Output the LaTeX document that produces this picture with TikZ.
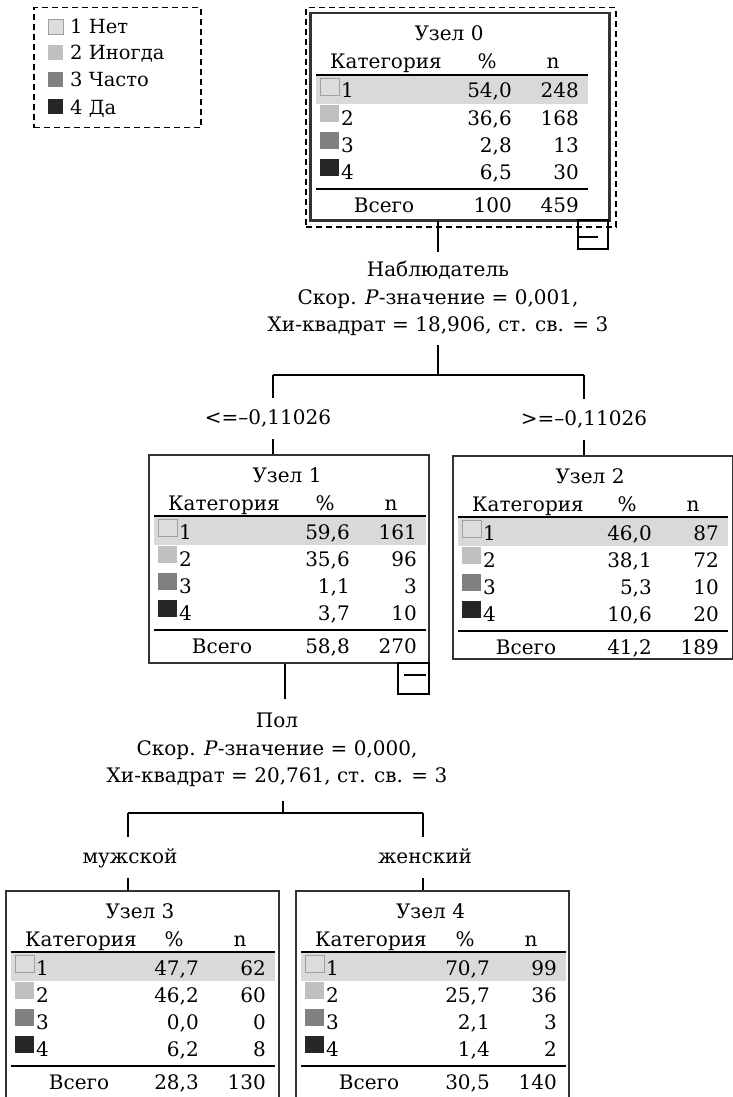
\documentclass[tikz,border=0pt]{standalone}
\usepackage{fontspec}
\setmainfont{DejaVu Serif}
\usetikzlibrary{calc}
\definecolor{hl}{HTML}{D9D9D9}
\definecolor{qa}{HTML}{DCDCDC}
\definecolor{qaedge}{HTML}{A0A0A0}
\definecolor{qb}{HTML}{C0C0C0}
\definecolor{qc}{HTML}{808080}
\definecolor{qd}{HTML}{262626}
\definecolor{frame}{HTML}{333333}
\tikzset{
  treebox/.style={draw=frame,line width=1.5pt,inner sep=0pt,anchor=north west},
  txt/.style={inner sep=0pt,font=\fontsize{20}{24}\selectfont},
  legtxt/.style={inner sep=0pt,font=\fontsize{19.5}{23}\selectfont},
  splittxt/.style={inner xsep=0pt,align=center,font=\fontsize{20}{27.5}\selectfont},
  brtxt/.style={inner xsep=0pt,inner ysep=11pt,text height=15pt,text depth=4pt,anchor=base,font=\fontsize{20}{24}\selectfont},
  rulel/.style={line width=1.8pt},
  conn/.style={line width=1.7pt},
  selbox/.style={draw,dash pattern=on 6pt off 4pt,line width=1.5pt,inner sep=0pt,anchor=north west},
  sqa/.style={fill=qa,draw=qaedge,line width=0.8pt},
  sqb/.style={fill=qb},
  sqc/.style={fill=qc},
  sqd/.style={fill=qd},
  collapse/.style={draw,line width=1.5pt,inner sep=0pt,anchor=north west,minimum width=30pt,minimum height=29pt}
}
% name, left, top, width, height, table right, number
\newcommand\tnode[7]{%
  \def\cur{#1}\def\Lx{#2}\def\Ty{#3}\def\Rx{#6}%
  \fill[hl] (#2+6,#3+62) rectangle (#6,#3+91);
  \node[treebox,minimum width=#4pt,minimum height=#5pt] (#1) at (#2,#3) {};
  \node[txt,anchor=base] (#1-title) at ({(#2+#6)/2},#3+28) {Узел #7};
  \node[txt,anchor=base west] (#1-hc) at (#2+20,#3+56) {Категория};
  \node[txt,anchor=base] (#1-hp) at (#6-101,#3+56) {\%};
  \node[txt,anchor=base] (#1-hn) at (#6-35,#3+56) {n};
  \draw[rulel] (#2+6,#3+62) -- (#6,#3+62);
  \draw[rulel] (#2+6,#3+176) -- (#6,#3+176);
}
% row k, square style, pct, n
\newcommand\trow[4]{%
  \pgfmathsetmacro\yc{\Ty+78+27*(#1-1)}%
  \path[#2] (\Lx+10,\yc-13) rectangle (\Lx+29,\yc+4);
  \node[txt,anchor=base west] (\cur-k#1) at (\Lx+31,\yc+7) {#1};
  \node[txt,anchor=base east] (\cur-p#1) at (\Rx-76,\yc+7) {#3};
  \node[txt,anchor=base east] (\cur-n#1) at (\Rx-9,\yc+7) {#4};
}
\newcommand\ttot[2]{%
  \node[txt,anchor=base] (\cur-tt) at (\Lx+74,\Ty+199) {Всего};
  \node[txt,anchor=base east] (\cur-tp) at (\Rx-76,\Ty+199) {#1};
  \node[txt,anchor=base east] (\cur-tn) at (\Rx-9,\Ty+199) {#2};
}
\newcommand\legitem[4]{% y centre, style, name, text
  \path[#2] (48,#1-7.5) rectangle (63,#1+7.5);
  \node[legtxt,anchor=base west] (#3) at (70,#1+7) {#4};
}
\begin{document}
\begin{tikzpicture}[x=1pt,y=-1pt]
\useasboundingbox (0,0) rectangle (733,1097);
\clip (0,0) rectangle (733,1097);
% legend
\node[selbox,minimum width=167pt,minimum height=120pt] (legend) at (33,7) {};
\legitem{27}{sqa}{lg1}{1 Нет}
\legitem{53}{sqb}{lg2}{2 Иногда}
\legitem{80}{sqc}{lg3}{3 Часто}
\legitem{107}{sqd}{lg4}{4 Да}
% node 0
\node[selbox,minimum width=310pt,minimum height=219pt] (sel0) at (305,7) {};
\tnode{n0}{310}{13}{298}{206}{588}{0}
\draw[draw=frame,line width=2.6pt] (n0.north west) rectangle (n0.south east);
\trow{1}{sqa}{54,0}{248}
\trow{2}{sqb}{36,6}{168}
\trow{3}{sqc}{2,8}{13}
\trow{4}{sqd}{6,5}{30}
\ttot{100}{459}
\node[collapse] (c0) at (577,219) {};
\draw[conn] ([xshift=5pt]c0.center) ++(0,2.5) coordinate (c0a) -- ++(-21,0);
% split 0
\node[splittxt,inner ysep=9pt] (s0) at (438,298.5) {Наблюдатель\\Скор. \textit{P}-значение = 0,001,\\Хи-квадрат = 18,906, ст. св. = 3};
\draw[conn] (n0.south -| s0.north) -- (s0.north);
\coordinate (h0l) at (273,375);
\coordinate (h0r) at (584,375);
\draw[conn] (s0.south) -- (s0.south |- h0l);
\draw[conn] (h0l) -- (h0r);
\node[brtxt] (b1) at (268,424) {<=–0,11026};
\node[brtxt] (b2) at (584,425) {>=–0,11026};
\draw[conn] (h0l) -- (h0l |- b1.north);
\draw[conn] (h0r) -- (h0r |- b2.north);
% node 1
\tnode{n1}{148}{454}{280}{208}{426}{1}
\trow{1}{sqa}{59,6}{161}
\trow{2}{sqb}{35,6}{96}
\trow{3}{sqc}{1,1}{3}
\trow{4}{sqd}{3,7}{10}
\ttot{58,8}{270}
\draw[conn] (h0l |- b1.south) -- (h0l |- n1.north);
\node[collapse,minimum width=31pt,minimum height=31pt] (c1) at (397,662) {};
\draw[conn] ([xshift=2pt,yshift=3pt]c1.center) ++(-11,0) -- ++(22,0);
% node 2
\tnode{n2}{452}{455}{279.5}{203}{728}{2}
\trow{1}{sqa}{46,0}{87}
\trow{2}{sqb}{38,1}{72}
\trow{3}{sqc}{5,3}{10}
\trow{4}{sqd}{10,6}{20}
\ttot{41,2}{189}
\draw[conn] (h0r |- b2.south) -- (h0r |- n2.north);
% split 1
\node[splittxt,inner ysep=14pt] (s1) at (277,750) {Пол\\Скор. \textit{P}-значение = 0,000,\\Хи-квадрат = 20,761, ст. св. = 3};
\draw[conn] ([xshift=-4pt]n1.south) -- ([xshift=-4pt]n1.south |- s1.north);
\coordinate (h1c) at (283,813);
\coordinate (h1l) at (128,813);
\coordinate (h1r) at (423,813);
\draw[conn] (h1c |- s1.south) -- (h1c);
\draw[conn] (h1l) -- (h1r);
\node[brtxt] (b3) at (130,863) {мужской};
\node[brtxt] (b4) at (425,863) {женский};
\draw[conn] (h1l) -- (h1l |- b3.north);
\draw[conn] (h1r) -- (h1r |- b4.north);
% node 3
\tnode{n3}{5}{890}{273}{215}{275}{3}
\trow{1}{sqa}{47,7}{62}
\trow{2}{sqb}{46,2}{60}
\trow{3}{sqc}{0,0}{0}
\trow{4}{sqd}{6,2}{8}
\ttot{28,3}{130}
\draw[conn] (h1l |- b3.south) -- (h1l |- n3.north);
% node 4
\tnode{n4}{295}{890}{273}{215}{566}{4}
\trow{1}{sqa}{70,7}{99}
\trow{2}{sqb}{25,7}{36}
\trow{3}{sqc}{2,1}{3}
\trow{4}{sqd}{1,4}{2}
\ttot{30,5}{140}
\draw[conn] (h1r |- b4.south) -- (h1r |- n4.north);
\end{tikzpicture}
\end{document}
